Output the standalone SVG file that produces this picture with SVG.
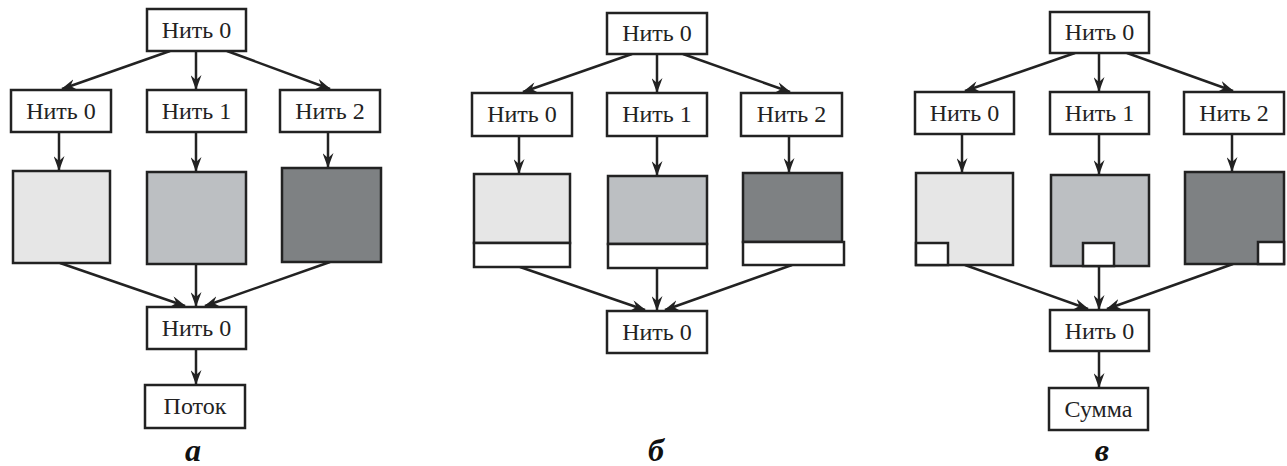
<svg xmlns="http://www.w3.org/2000/svg" width="1287" height="466" viewBox="0 0 1287 466">
<style>
.box{fill:#fff;stroke:#222;stroke-width:2.5}
.l{fill:#e6e6e6;stroke:#222;stroke-width:2.5}
.m{fill:#bcbfc2;stroke:#222;stroke-width:2.5}
.d{fill:#7e8183;stroke:#222;stroke-width:2.5}
.w{fill:#fff;stroke:#222;stroke-width:2.5}
.t{font-family:"Liberation Serif","Times New Roman",serif;font-size:24px;fill:#222;text-anchor:middle}
.cap{font-family:"Liberation Serif","Times New Roman",serif;font-size:32px;font-weight:bold;font-style:italic;fill:#111;text-anchor:middle}
.c line{stroke:#222;stroke-width:2.5;marker-end:url(#ah)}
</style>
<defs>
<marker id="ah" viewBox="0 0 15 11" refX="14" refY="5.5" markerWidth="15" markerHeight="11" markerUnits="userSpaceOnUse" orient="auto">
<path d="M0,0 L15,5.5 L0,11 L5,5.5 z" fill="#222"/>
</marker>
</defs>
<rect width="1287" height="466" fill="#fff"/>
<g id="connectors" class="c">
<line x1="170" y1="51" x2="62" y2="89"/>
<line x1="196" y1="51" x2="196" y2="89"/>
<line x1="227" y1="51" x2="330" y2="89"/>
<line x1="59" y1="132" x2="59" y2="170"/>
<line x1="196" y1="132" x2="196" y2="171"/>
<line x1="328" y1="132" x2="328" y2="167"/>
<line x1="60" y1="263" x2="185" y2="306"/>
<line x1="196" y1="264" x2="196" y2="306"/>
<line x1="330" y1="262" x2="205" y2="306"/>
<line x1="196" y1="349" x2="196" y2="384"/>
<line x1="632" y1="54" x2="523" y2="92"/>
<line x1="657" y1="54" x2="657" y2="92"/>
<line x1="683" y1="54" x2="790" y2="92"/>
<line x1="519" y1="136" x2="519" y2="173"/>
<line x1="657" y1="136" x2="657" y2="175"/>
<line x1="789" y1="136" x2="789" y2="172"/>
<line x1="520" y1="267" x2="645" y2="310"/>
<line x1="657" y1="268" x2="657" y2="310"/>
<line x1="792" y1="265" x2="665" y2="310"/>
<line x1="1075" y1="53" x2="965" y2="91"/>
<line x1="1099" y1="53" x2="1099" y2="91"/>
<line x1="1127" y1="53" x2="1233" y2="91"/>
<line x1="962" y1="134" x2="962" y2="172"/>
<line x1="1099" y1="134" x2="1099" y2="174"/>
<line x1="1232" y1="134" x2="1232" y2="171"/>
<line x1="965" y1="265" x2="1088" y2="309"/>
<line x1="1099" y1="266" x2="1099" y2="309"/>
<line x1="1233" y1="264" x2="1107" y2="309"/>
<line x1="1099" y1="351" x2="1099" y2="387"/>
</g>
<!-- Panel a -->
<g id="a_top"><rect class="box" x="147" y="9" width="99" height="42"/><text class="t" x="196.5" y="38">Нить 0</text></g>
<g id="a_t0"><rect class="box" x="11" y="90" width="100" height="42"/><text class="t" x="61" y="119">Нить 0</text></g>
<g id="a_t1"><rect class="box" x="147" y="90" width="99" height="42"/><text class="t" x="196.5" y="119">Нить 1</text></g>
<g id="a_t2"><rect class="box" x="280" y="90" width="100" height="42"/><text class="t" x="330" y="119">Нить 2</text></g>
<g id="a_s0"><rect class="l" x="13" y="171" width="97" height="92"/></g>
<g id="a_s1"><rect class="m" x="147" y="172" width="99" height="92"/></g>
<g id="a_s2"><rect class="d" x="282" y="168" width="99" height="94"/></g>
<g id="a_bot"><rect class="box" x="147" y="307" width="99" height="42"/><text class="t" x="196.5" y="336">Нить 0</text></g>
<g id="a_flow"><rect class="box" x="145" y="385" width="100" height="43"/><text class="t" x="195" y="414">Поток</text></g>
<text class="cap" x="193" y="461">a</text>
<!-- Panel b -->
<g id="b_top"><rect class="box" x="607" y="13" width="100" height="41"/><text class="t" x="657" y="41">Нить 0</text></g>
<g id="b_t0"><rect class="box" x="472" y="93" width="100" height="43"/><text class="t" x="522" y="122">Нить 0</text></g>
<g id="b_t1"><rect class="box" x="607" y="93" width="100" height="43"/><text class="t" x="657" y="122">Нить 1</text></g>
<g id="b_t2"><rect class="box" x="741" y="93" width="101" height="43"/><text class="t" x="791.5" y="122">Нить 2</text></g>
<g id="b_s0"><rect class="l" x="474" y="174" width="96" height="69"/><rect class="w" x="474" y="243" width="96" height="24"/></g>
<g id="b_s1"><rect class="m" x="608" y="176" width="99" height="68"/><rect class="w" x="608" y="244" width="99" height="24"/></g>
<g id="b_s2"><rect class="d" x="743" y="173" width="99" height="69"/><rect class="w" x="743" y="242" width="101" height="23"/></g>
<g id="b_bot"><rect class="box" x="607" y="311" width="100" height="42"/><text class="t" x="657" y="340">Нить 0</text></g>
<text class="cap" x="656" y="461">б</text>
<!-- Panel c -->
<g id="c_top"><rect class="box" x="1050" y="12" width="99" height="41"/><text class="t" x="1099.5" y="40">Нить 0</text></g>
<g id="c_t0"><rect class="box" x="915" y="92" width="99" height="42"/><text class="t" x="964.5" y="121">Нить 0</text></g>
<g id="c_t1"><rect class="box" x="1050" y="92" width="99" height="42"/><text class="t" x="1099.5" y="121">Нить 1</text></g>
<g id="c_t2"><rect class="box" x="1184" y="92" width="100" height="42"/><text class="t" x="1234" y="121">Нить 2</text></g>
<g id="c_s0"><rect class="l" x="916" y="173" width="97" height="92"/><rect class="w" x="916" y="243" width="32" height="22"/></g>
<g id="c_s1"><rect class="m" x="1051" y="175" width="98" height="91"/><rect class="w" x="1083" y="243" width="31" height="23"/></g>
<g id="c_s2"><rect class="d" x="1185" y="172" width="99" height="92"/><rect class="w" x="1258" y="242" width="26" height="22"/></g>
<g id="c_bot"><rect class="box" x="1050" y="310" width="99" height="41"/><text class="t" x="1099.5" y="339">Нить 0</text></g>
<g id="c_sum"><rect class="box" x="1049" y="388" width="99" height="42"/><text class="t" x="1098.5" y="417">Сумма</text></g>
<text class="cap" x="1102" y="461">в</text>
</svg>
